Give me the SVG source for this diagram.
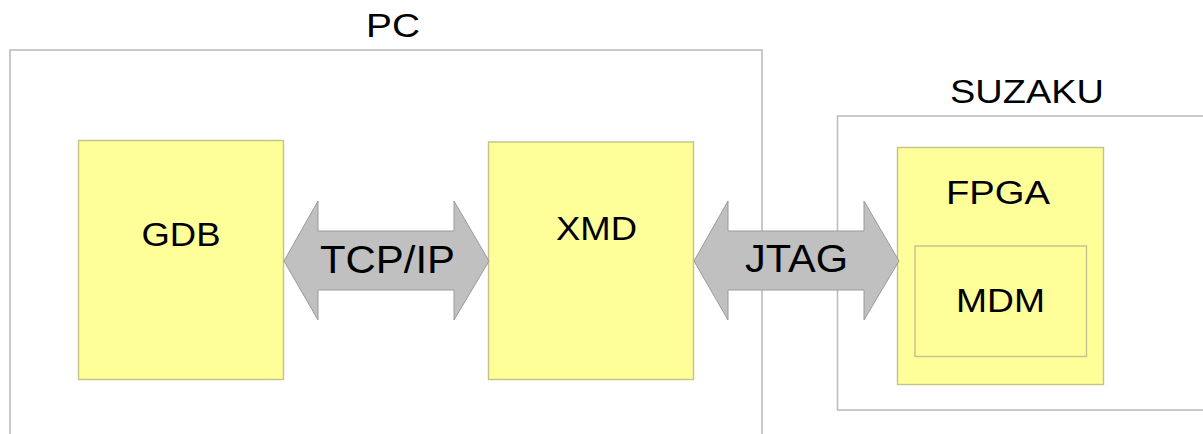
<svg xmlns="http://www.w3.org/2000/svg" width="1203" height="434" viewBox="0 0 1203 434">
<style>
.frame{fill:#fff;stroke:#bdbdbd;stroke-width:1.6}
.node{fill:#ffff99;stroke:#c2c28a;stroke-width:1.4}
.arrow{fill:#c0c0c0;stroke:#9a9a9a;stroke-width:1}
text{font-family:"Liberation Sans",Arial,sans-serif;fill:#000;text-anchor:middle}
.lbl{font-size:33px}
.big{font-size:38px}
</style>
<rect width="1203" height="434" fill="#fff"/>
<g id="pc">
<rect class="frame" x="10" y="50" width="752" height="400"/>
<text class="lbl" x="393" y="37" textLength="54" lengthAdjust="spacingAndGlyphs">PC</text>
</g>
<g id="suzaku">
<rect class="frame" x="837.5" y="116" width="380" height="294"/>
<text class="lbl" x="1027" y="103" textLength="154" lengthAdjust="spacingAndGlyphs">SUZAKU</text>
</g>
<g id="gdb">
<rect class="node" x="78.5" y="140.5" width="205" height="239"/>
<text class="lbl" x="181" y="246" textLength="79" lengthAdjust="spacingAndGlyphs">GDB</text>
</g>
<g id="xmd">
<rect class="node" x="488.5" y="142" width="205" height="237.5"/>
<text class="lbl" x="596.5" y="240" textLength="81" lengthAdjust="spacingAndGlyphs">XMD</text>
</g>
<g id="fpga">
<rect class="node" x="897.5" y="147.5" width="206" height="237"/>
<text class="lbl" x="998" y="204" textLength="104" lengthAdjust="spacingAndGlyphs">FPGA</text>
</g>
<g id="mdm">
<rect class="node" x="915" y="246" width="171.5" height="110.5"/>
<text class="lbl" x="1000.5" y="312" textLength="89" lengthAdjust="spacingAndGlyphs">MDM</text>
</g>
<g id="connectors">
<g id="tcpip">
<polygon class="arrow" points="284,261 318,201 318,231 454,231 454,201 489,261 454,320 454,290 318,290 318,320"/>
<text class="big" x="387.5" y="273" textLength="135" lengthAdjust="spacingAndGlyphs">TCP/IP</text>
</g>
<g id="jtag">
<polygon class="arrow" points="694,261 728,201 728,231 864,231 864,201 899,261 864,320 864,290 728,290 728,320"/>
<text class="big" x="796.5" y="272" textLength="103" lengthAdjust="spacingAndGlyphs">JTAG</text>
</g>
</g>
</svg>
